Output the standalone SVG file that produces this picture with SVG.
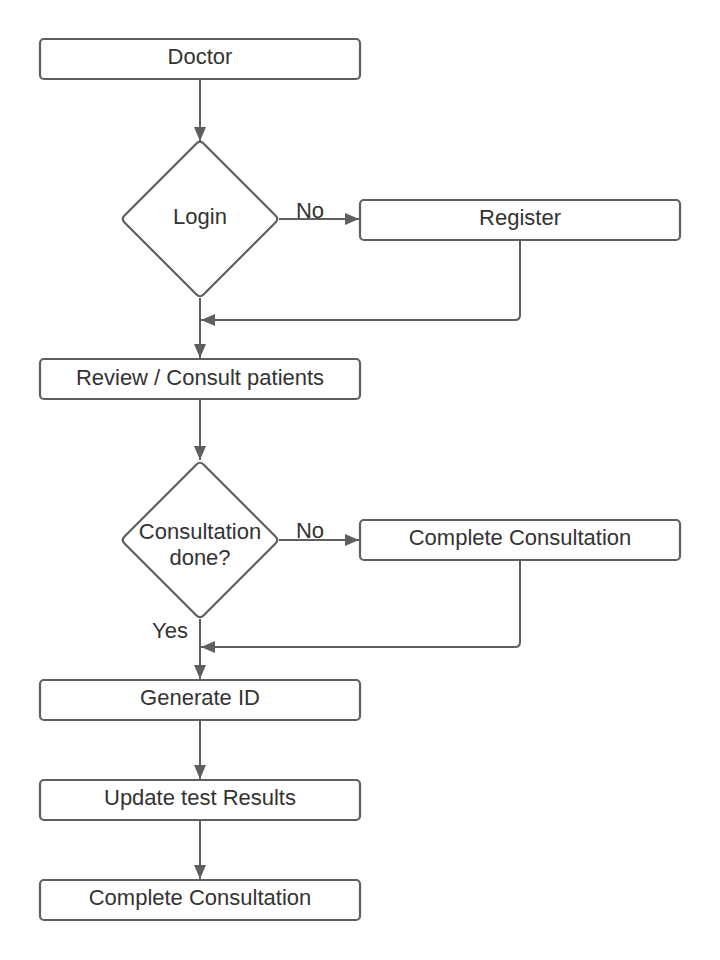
<svg xmlns="http://www.w3.org/2000/svg" width="720" height="960" viewBox="0 0 720 960">
<style>
.box{fill:#fff;stroke:#5f5f5f;stroke-width:2.2}
.ln{fill:none;stroke:#5f5f5f;stroke-width:2}
text{font-family:"Liberation Sans",Arial,sans-serif;font-size:22px;fill:#333;text-anchor:middle}
</style>
<defs>
<marker id="ah" viewBox="0 0 14 12" refX="14" refY="6" markerWidth="14" markerHeight="12" markerUnits="userSpaceOnUse" orient="auto">
<path d="M0,0 L14,6 L0,12 Z" fill="#5f5f5f"/>
</marker>
</defs>
<rect width="720" height="960" fill="#fff"/>
<g id="connectors">
<path class="ln" d="M200,80 V141" marker-end="url(#ah)"/>
<path class="ln" d="M279,219 H359" marker-end="url(#ah)"/>
<path class="ln" d="M520,240 V315 Q520,320 515,320 H201" marker-end="url(#ah)"/>
<path class="ln" d="M200,298 V358" marker-end="url(#ah)"/>
<path class="ln" d="M200,400 V460" marker-end="url(#ah)"/>
<path class="ln" d="M279,540 H359" marker-end="url(#ah)"/>
<path class="ln" d="M520,560 V642 Q520,647 515,647 H201" marker-end="url(#ah)"/>
<path class="ln" d="M200,619 V679" marker-end="url(#ah)"/>
<path class="ln" d="M200,720 V779" marker-end="url(#ah)"/>
<path class="ln" d="M200,820 V879" marker-end="url(#ah)"/>
<text x="310" y="218">No</text>
<text x="310" y="538">No</text>
<text x="170" y="638">Yes</text>
</g>
<g id="doctor"><rect class="box" x="40" y="39" width="320" height="40" rx="4"/><text x="200" y="64">Doctor</text></g>
<g id="login"><path class="box" d="M196.5,143.5 Q200,140 203.5,143.5 L275.5,215.5 Q279,219 275.5,222.5 L203.5,294.5 Q200,298 196.5,294.5 L124.5,222.5 Q121,219 124.5,215.5 Z"/><text x="200" y="224">Login</text></g>
<g id="register"><rect class="box" x="360" y="200" width="320" height="40" rx="4"/><text x="520" y="225">Register</text></g>
<g id="review"><rect class="box" x="40" y="359" width="320" height="40" rx="4"/><text x="200" y="385">Review / Consult patients</text></g>
<g id="consultation-done"><path class="box" d="M196.5,464.5 Q200,461 203.5,464.5 L275.5,536.5 Q279,540 275.5,543.5 L203.5,615.5 Q200,619 196.5,615.5 L124.5,543.5 Q121,540 124.5,536.5 Z"/><text x="200" y="539">Consultation</text><text x="200" y="565">done?</text></g>
<g id="complete-consultation-1"><rect class="box" x="360" y="520" width="320" height="40" rx="4"/><text x="520" y="545">Complete Consultation</text></g>
<g id="generate-id"><rect class="box" x="40" y="680" width="320" height="40" rx="4"/><text x="200" y="705">Generate ID</text></g>
<g id="update-results"><rect class="box" x="40" y="780" width="320" height="40" rx="4"/><text x="200" y="805">Update test Results</text></g>
<g id="complete-consultation-2"><rect class="box" x="40" y="880" width="320" height="40" rx="4"/><text x="200" y="905">Complete Consultation</text></g>
</svg>
